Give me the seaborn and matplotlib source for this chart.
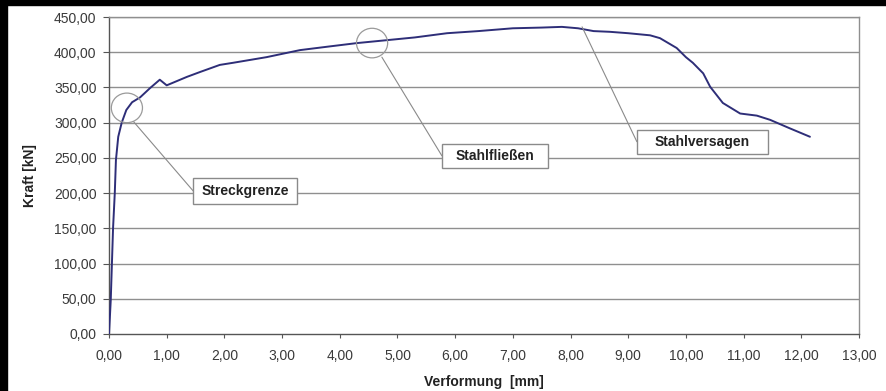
#!/usr/bin/env python3
"""Kraft-Verformungs-Kurve (Zugversuch Stahl)."""

import matplotlib
matplotlib.use("Agg")
import matplotlib.pyplot as plt
from matplotlib.patches import Ellipse, Rectangle
import seaborn as sns
import pandas as pd

# ── Daten ──────────────────────────────────────────────────────────────────
verformung = [0.00, 0.03, 0.07, 0.10, 0.12, 0.16, 0.22, 0.30, 0.40, 0.54,
              0.71, 0.88, 1.00, 1.35, 1.58, 1.92, 2.15, 2.73, 3.31, 3.80,
              4.30, 4.80, 5.30, 5.86, 6.40, 7.00, 7.50, 7.85, 8.13, 8.40,
              8.68, 9.00, 9.38, 9.55, 9.84, 10.00, 10.12, 10.30, 10.42, 10.64,
              10.94, 11.23, 11.46, 11.63, 11.80, 12.15]
kraft = [0, 48, 150, 200, 247, 280, 300, 318, 329, 336,
         349, 361, 353, 365, 372, 382, 385, 393, 403, 408,
         413, 417, 421, 427, 430, 434, 435, 436, 434, 430,
         429, 427, 424, 420, 406, 393, 385, 370, 351, 328,
         313, 310, 304, 298, 292, 280]

x_ticks = list(range(0, 14))
y_ticks = list(range(0, 451, 50))

# Beschriftungen: (Text, Box x0, x1, y0, y1, Linie von (x, y) nach (x, y), Kreis)
marken = [
    ("Streckgrenze", 1.46, 3.26, 185, 221, (0.43, 301), (1.46, 203), (0.31, 321)),
    ("Stahlfließen", 5.77, 7.61, 236, 270, (4.73, 393), (5.77, 253), (4.56, 413)),
    ("Stahlversagen", 9.15, 11.42, 256, 290, (8.20, 436), (9.15, 273), None),
]

sns.set_theme(style="white")
plt.rcParams["font.family"] = ["Liberation Sans", "DejaVu Sans"]

df = pd.DataFrame({"Verformung": verformung, "Kraft": kraft})

fig = plt.figure(figsize=(8.87, 3.91), dpi=100)
fig.patch.set_facecolor("white")
ax = fig.add_axes([0.1229, 0.1458, 0.8455, 0.8107])

grau = "#8f8f8f"
for y in y_ticks[1:]:
    ax.axhline(y, color=grau, lw=1.0, zorder=0)

sns.lineplot(data=df, x="Verformung", y="Kraft", sort=False, estimator=None,
             color="#2e2e78", lw=1.4, ax=ax, zorder=3)

ax.set_xlim(0, 13)
ax.set_ylim(0, 450)
ax.set_xticks(x_ticks)
ax.set_yticks(y_ticks)
ax.set_xticklabels([f"{v:.2f}".replace(".", ",") for v in x_ticks])
ax.set_yticklabels([f"{v:.2f}".replace(".", ",") for v in y_ticks])
ax.tick_params(axis="x", direction="out", length=3, width=0.8, pad=8,
               labelsize=10, colors="#555555", labelcolor="#3a3a3a", bottom=True)
ax.tick_params(axis="y", direction="out", length=4, width=0.8, pad=5,
               labelsize=10, colors="#555555", labelcolor="#3a3a3a", left=True)

for s in ["top", "right"]:
    ax.spines[s].set_color(grau)
    ax.spines[s].set_linewidth(1.0)
for s in ["left", "bottom"]:
    ax.spines[s].set_color("#555555")
    ax.spines[s].set_linewidth(1.0)

ax.set_xlabel("Verformung  [mm]", fontsize=10, fontweight="bold", color="#222222")
ax.set_ylabel("Kraft [kN]", fontsize=10, fontweight="bold", color="#222222")
ax.xaxis.set_label_coords(0.5, -0.128)
ax.yaxis.set_label_coords(-0.096, 0.5)

for text, x0, x1, y0, y1, p_von, p_nach, kreis in marken:
    if kreis is not None:
        ax.add_patch(Ellipse(kreis, 0.54, 42, fill=False, ec="#9a9a9a",
                             lw=0.9, zorder=4))
    ax.plot([p_von[0], p_nach[0]], [p_von[1], p_nach[1]], color="#8a8a8a",
            lw=0.8, zorder=4)
    ax.add_patch(Rectangle((x0, y0), x1 - x0, y1 - y0, fc="white",
                           ec="#8a8a8a", lw=1.0, zorder=5))
    ax.text((x0 + x1) / 2, (y0 + y1) / 2, text, ha="center", va="center",
            fontsize=10, fontweight="bold", color="#222222", zorder=6)

# schwarzer Rand oben und links
fig.patches.append(Rectangle((0, 1 - 5 / 391), 1, 5 / 391, transform=fig.transFigure,
                             color="black", zorder=10))
fig.patches.append(Rectangle((0, 0), 7 / 887, 1, transform=fig.transFigure,
                             color="black", zorder=10))

fig.savefig("out.png", dpi=100)
plt.close()
